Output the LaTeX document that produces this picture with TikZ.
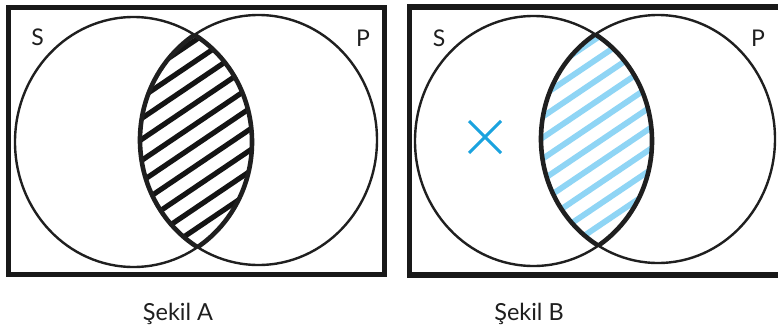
\documentclass[tikz,border=0pt]{standalone}
\usepackage{fontspec}
\setmainfont{Lato}
\usetikzlibrary{calc}
\begin{document}
\begin{tikzpicture}[x=1pt,y=-1pt,
  frame/.style={line width=5.5pt,draw=black!90},
  circ/.style={line width=2.4pt,draw=black!88},
  lensedge/.style={line width=4.6pt,draw=black!88},
  hatchA/.style={line width=5.2pt,draw=black!92},
  hatchB/.style={line width=5.8pt,draw=hatchblue},
  lbl/.style={font=\fontsize{23}{26}\selectfont,text=black!88,inner sep=0pt},
  captext/.style={font=\fontsize{23.5}{26}\selectfont,text=black!88,inner sep=0pt,anchor=base}]
\definecolor{hatchblue}{HTML}{8FD5F5}
\definecolor{xblue}{HTML}{1AA3DF}
\useasboundingbox (0,0) rectangle (778,333);
\fill[white] (0,0) rectangle (778,333);

% ---------- Sekil A ----------
\coordinate (AL) at (133.5,142);
\coordinate (AR) at (258.5,140);
\begin{scope}
  \clip (AL) ellipse [x radius=118.5pt, y radius=125pt];
  \clip (AR) ellipse [x radius=118.5pt, y radius=125pt];
  \foreach \k in {-9,...,9}
    \draw[hatchA] (120,196+21*\k) -- (280,88+21*\k);
\end{scope}
\draw[circ] (AL) ellipse [x radius=118.5pt, y radius=125pt];
\draw[circ] (AR) ellipse [x radius=118.5pt, y radius=125pt];
\begin{scope}
  \clip (AR) ellipse [x radius=118.5pt, y radius=125pt];
  \draw[lensedge] (AL) ellipse [x radius=118.5pt, y radius=125pt];
\end{scope}
\begin{scope}
  \clip (AL) ellipse [x radius=118.5pt, y radius=125pt];
  \draw[lensedge] (AR) ellipse [x radius=118.5pt, y radius=125pt];
\end{scope}
\draw[frame] (8.5,7.5) rectangle (384.5,274.5);
\node[lbl] (sA) at (37.5,37.5) {S};
\node[lbl] (pA) at (363,38.5) {P};
\node[captext] (capA) at (178,320) {Şekil A};

% ---------- Sekil B ----------
\coordinate (BL) at (533.5,141);
\coordinate (BR) at (658,139);
\begin{scope}
  \clip (BL) ellipse [x radius=118.5pt, y radius=125pt];
  \clip (BR) ellipse [x radius=117pt, y radius=124pt];
  \foreach \k in {-9,...,9}
    \draw[hatchB] (520,195+21*\k) -- (680,87+21*\k);
\end{scope}
\draw[circ] (BL) ellipse [x radius=118.5pt, y radius=125pt];
\draw[circ] (BR) ellipse [x radius=117pt, y radius=124pt];
\begin{scope}
  \clip (BR) ellipse [x radius=117pt, y radius=124pt];
  \draw[lensedge] (BL) ellipse [x radius=118.5pt, y radius=125pt];
\end{scope}
\begin{scope}
  \clip (BL) ellipse [x radius=118.5pt, y radius=125pt];
  \draw[lensedge] (BR) ellipse [x radius=117pt, y radius=124pt];
\end{scope}
\draw[frame] (790,7) -- (409.5,7) -- (409.5,275) -- (790,275);
\draw[frame] (409.5,4.25) -- (409.5,277.75);
\coordinate (X) at (485,137);
\draw[xblue,line width=3pt] ($(X)+(-16,-16)$) -- ($(X)+(16,16)$) ($(X)+(-16,16)$) -- ($(X)+(16,-16)$);
\node[lbl] (sB) at (439,38) {S};
\node[lbl] (pB) at (758,38) {P};
\node[captext] (capB) at (529,320) {Şekil B};
\end{tikzpicture}
\end{document}
